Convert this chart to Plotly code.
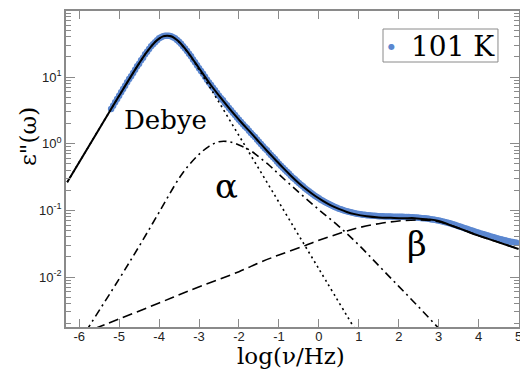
import numpy as np
import plotly.graph_objects as go

# ---- data (log10 of eps'') ----
data_x = [-5.2, -5.15, -5.1, -5.05, -5.0, -4.95, -4.9, -4.85, -4.8, -4.75, -4.7, -4.65,
          -4.6, -4.55, -4.5, -4.45, -4.4, -4.35, -4.3, -4.25, -4.2, -4.15, -4.1, -4.05,
          -4.0, -3.95, -3.9, -3.85, -3.8, -3.75, -3.7, -3.65, -3.6, -3.55, -3.5, -3.45,
          -3.4, -3.35, -3.3, -3.25, -3.2, -3.15, -3.1, -3.05, -3.0, -2.95, -2.9, -2.85,
          -2.8, -2.75, -2.7, -2.65, -2.6, -2.55, -2.5, -2.45, -2.4, -2.35, -2.3, -2.25,
          -2.2, -2.15, -2.1, -2.05, -2.0, -1.95, -1.9, -1.85, -1.8, -1.75, -1.7, -1.65,
          -1.6, -1.55, -1.5, -1.45, -1.4, -1.35, -1.3, -1.25, -1.2, -1.15, -1.1, -1.05,
          -1.0, -0.95, -0.9, -0.85, -0.8, -0.75, -0.7, -0.65, -0.6, -0.55, -0.5, -0.45,
          -0.4, -0.35, -0.3, -0.25, -0.2, -0.15, -0.1, -0.05, 0.0, 0.05, 0.1, 0.15,
          0.2, 0.25, 0.3, 0.35, 0.4, 0.45, 0.5, 0.55, 0.6, 0.65, 0.7, 0.75,
          0.8, 0.85, 0.9, 0.95, 1.0, 1.05, 1.1, 1.15, 1.2, 1.25, 1.3, 1.35,
          1.4, 1.45, 1.5, 1.55, 1.6, 1.65, 1.7, 1.75, 1.8, 1.85, 1.9, 1.95,
          2.0, 2.05, 2.1, 2.15, 2.2, 2.25, 2.3, 2.35, 2.4, 2.45, 2.5, 2.55,
          2.6, 2.65, 2.7, 2.75, 2.8, 2.85, 2.9, 2.95, 3.0, 3.05, 3.1, 3.15,
          3.2, 3.25, 3.3, 3.35, 3.4, 3.45, 3.5, 3.55, 3.6, 3.65, 3.7, 3.75,
          3.8, 3.85, 3.9, 3.95, 4.0, 4.05, 4.1, 4.15, 4.2, 4.25, 4.3, 4.35,
          4.4, 4.45, 4.5, 4.55, 4.6, 4.65, 4.7, 4.75, 4.8, 4.85, 4.9, 4.95]
data_logy = [0.52, 0.57, 0.62, 0.67, 0.72, 0.77, 0.82, 0.87, 0.92, 0.97, 1.01, 1.06,
             1.11, 1.16, 1.20, 1.25, 1.29, 1.34, 1.38, 1.42, 1.46, 1.49, 1.52, 1.55,
             1.58, 1.595, 1.61, 1.617, 1.62, 1.619, 1.61, 1.597, 1.58, 1.555, 1.53, 1.497,
             1.46, 1.426, 1.39, 1.348, 1.31, 1.263, 1.22, 1.178, 1.13, 1.089, 1.05, 1.003,
             0.96, 0.919, 0.88, 0.838, 0.80, 0.76, 0.72, 0.682, 0.65, 0.606, 0.575, 0.536,
             0.50, 0.463, 0.43, 0.393, 0.36, 0.326, 0.29, 0.258, 0.23, 0.194, 0.16, 0.129,
             0.10, 0.062, 0.03, -0.006, -0.04, -0.073, -0.10, -0.135, -0.17, -0.201, -0.23, -0.266,
             -0.30, -0.33, -0.36, -0.392, -0.42, -0.448, -0.48, -0.51, -0.535, -0.563, -0.59, -0.616,
             -0.64, -0.67, -0.69, -0.714, -0.735, -0.757, -0.78, -0.80, -0.82, -0.84, -0.855, -0.875,
             -0.89, -0.905, -0.92, -0.935, -0.95, -0.962, -0.975, -0.985, -0.995, -1.005, -1.015, -1.022,
             -1.03, -1.037, -1.045, -1.05, -1.055, -1.06, -1.065, -1.068, -1.072, -1.075, -1.078, -1.08,
             -1.083, -1.085, -1.087, -1.089, -1.09, -1.091, -1.092, -1.093, -1.094, -1.095, -1.095, -1.096,
             -1.096, -1.097, -1.098, -1.099, -1.10, -1.101, -1.103, -1.105, -1.107, -1.109, -1.111, -1.114,
             -1.117, -1.12, -1.124, -1.128, -1.132, -1.137, -1.142, -1.147, -1.153, -1.16, -1.167, -1.174,
             -1.182, -1.19, -1.199, -1.208, -1.217, -1.227, -1.237, -1.247, -1.257, -1.267, -1.277, -1.287,
             -1.297, -1.307, -1.317, -1.327, -1.337, -1.346, -1.355, -1.364, -1.373, -1.382, -1.391, -1.40,
             -1.409, -1.417, -1.425, -1.433, -1.441, -1.449, -1.456, -1.463, -1.47, -1.476, -1.482, -1.488]

total_x = [-6.3, -5.5, -5.0, -4.5, -4.3, -4.1, -4.0, -3.9, -3.8, -3.7, -3.6, -3.5, -3.3,
           -3.1, -2.9, -2.7, -2.5, -2.3, -2.1, -1.9, -1.7, -1.5, -1.3, -1.1, -0.9, -0.7,
           -0.5, -0.3, -0.1, 0.1, 0.3, 0.5, 0.7, 0.9, 1.2, 1.5, 1.8, 2.1, 2.4, 2.7, 3.0,
           3.3, 3.6, 4.0, 4.5, 5.0]
total_logy = [-0.58, 0.221, 0.719, 1.204, 1.38, 1.524, 1.576, 1.6085, 1.62, 1.611, 1.578,
              1.528, 1.388, 1.22, 1.046, 0.876, 0.72, 0.571, 0.4275, 0.291, 0.163, 0.028,
              -0.106, -0.233, -0.36, -0.48, -0.592, -0.691, -0.781, -0.857, -0.925, -0.978,
              -1.024, -1.057, -1.09, -1.107, -1.113, -1.118, -1.117, -1.134, -1.159,
              -1.225, -1.29, -1.38, -1.48, -1.58]

debye_x = [-6.3, -5.5, -5.0, -4.5, -4.3, -4.1, -4.0, -3.9, -3.8, -3.7, -3.6, -3.5, -3.3,
           -3.1, -2.6, -2.1, -1.6, -1.0, 0.0, 0.9]
debye_logy = [-0.579, 0.221, 0.719, 1.204, 1.38, 1.524, 1.5755, 1.6085, 1.62, 1.6085,
              1.5755, 1.524, 1.38, 1.204, 0.719, 0.221, -0.279, -0.879, -1.879, -2.779]

alpha_x = [-6.3, -5.76, -5.0, -4.5, -4.0, -3.5, -3.25, -3.0, -2.75, -2.5, -2.25, -2.0,
           -1.72, -1.5, -1.25, -1.0, -0.5, 0.0, 0.5, 1.0, 1.5, 2.0, 2.5, 3.0, 3.5]
alpha_logy = [-3.28, -2.75, -2.03, -1.54, -1.03, -0.52, -0.32, -0.16, -0.04, 0.03, 0.03,
              -0.02, -0.10, -0.20, -0.32, -0.46, -0.73, -0.99, -1.24, -1.52, -1.83, -2.14,
              -2.45, -2.77, -3.09]

beta_x = [-6.3, -5.51, -5.0, -4.0, -3.22, -2.0, -1.47, -1.0, -0.35, 0.0, 0.6, 1.0, 1.5,
          2.0, 2.5, 3.0, 3.6, 4.0, 4.5, 5.0]
beta_logy = [-2.94, -2.75, -2.63, -2.39, -2.20, -1.92, -1.78, -1.67, -1.53, -1.45, -1.33,
             -1.26, -1.20, -1.16, -1.145, -1.17, -1.29, -1.38, -1.48, -1.58]

x_ticks = [-6, -5, -4, -3, -2, -1, 0, 1, 2, 3, 4, 5]
y_tick_exp = [-2, -1, 0, 1]
series_name = "101 K"

AX = '#8a8a8a'
BLUE = '#5b87d0'
SERIF = 'DejaVu Serif'
SANS = 'Liberation Sans Narrow, Liberation Sans, Arial, sans-serif'

def lin(v):
    return 10 ** np.array(v)

fig = go.Figure()
fig.add_trace(go.Scatter(x=data_x, y=lin(data_logy), mode='markers', name=series_name,
                         showlegend=False,
                         marker=dict(color=BLUE, size=6.5, line=dict(width=0))))
fig.add_trace(go.Scatter(x=debye_x, y=lin(debye_logy), mode='lines', showlegend=False,
                         line=dict(color='black', width=1.6, dash='2px,3.5px', shape='spline')))
fig.add_trace(go.Scatter(x=alpha_x, y=lin(alpha_logy), mode='lines', showlegend=False,
                         line=dict(color='black', width=1.6, dash='8px,4px,2px,4px', shape='spline')))
fig.add_trace(go.Scatter(x=beta_x, y=lin(beta_logy), mode='lines', showlegend=False,
                         line=dict(color='black', width=1.6, dash='10px,5px', shape='spline')))
fig.add_trace(go.Scatter(x=total_x, y=lin(total_logy), mode='lines', showlegend=False,
                         line=dict(color='black', width=2, shape='spline')))

minor_vals = [m * 10.0 ** e for e in range(-3, 2) for m in range(2, 10)]

fig.update_layout(
    width=520, height=372,
    margin=dict(l=66, r=1, t=11, b=45),
    paper_bgcolor='white', plot_bgcolor='white',
    showlegend=False,
    xaxis=dict(range=[-6.33, 5.01], tickvals=x_ticks, ticktext=[str(t) for t in x_ticks],
               ticks='inside', ticklen=8, tickwidth=1.2, tickcolor=AX,
               showline=True, linecolor=AX, linewidth=1.5, mirror='ticks',
               showgrid=False, zeroline=False, automargin=False, ticklabelstandoff=-3,
               ticklabeloverflow='allow',
               tickfont=dict(family=SANS, size=13, color='#222')),
    yaxis=dict(type='log', range=[-2.75, 1.99],
               tickvals=[10.0 ** e for e in y_tick_exp],
               ticktext=['10<sup>%d</sup>' % e for e in y_tick_exp],
               ticks='inside', ticklen=9, tickwidth=1.2, tickcolor=AX,
               showline=True, linecolor=AX, linewidth=1.5, mirror='ticks',
               showgrid=False, zeroline=False, automargin=False,
               tickfont=dict(family=SANS, size=13, color='#222'),
               minor=dict(tickmode='array', tickvals=minor_vals, ticks='inside',
                          ticklen=5, tickwidth=1, tickcolor=AX, showgrid=False)),
)

# legend box (drawn as layout decoration)
fig.add_shape(type='rect', xref='paper', yref='paper', x0=0.6998, x1=0.9536,
              y0=0.8386, y1=0.943, line=dict(color=AX, width=1), fillcolor='white', layer='above')
fig.add_annotation(text='●', xref='paper', yref='paper', x=0.7196, y=0.889,
                   xanchor='center', yanchor='middle', showarrow=False,
                   font=dict(family='DejaVu Sans', size=8, color=BLUE))
fig.add_annotation(text=series_name, xref='paper', yref='paper', x=0.855, y=0.889,
                   xanchor='center', yanchor='middle', showarrow=False,
                   font=dict(family=SERIF, size=28, color='black'))

fig.add_annotation(text='log(ν/Hz)', xref='paper', yref='paper', x=0.497, y=-0.093,
                   xanchor='center', yanchor='middle', showarrow=False,
                   font=dict(family=SERIF, size=23, color='black'))
fig.add_annotation(text='ε"(ω)', xref='paper', yref='paper', x=-0.084, y=0.604,
                   textangle=-90, xanchor='center', yanchor='middle', showarrow=False,
                   font=dict(family=SERIF, size=23, color='black'))
fig.add_annotation(text='Debye', x=-3.83, y=0.36, xref='x', yref='y',
                   showarrow=False, font=dict(family=SERIF, size=26, color='black'))
fig.add_annotation(text='α', x=-2.3, y=-0.64, xref='x', yref='y',
                   showarrow=False, font=dict(family=SERIF, size=34, color='black'))
fig.add_annotation(text='β', x=2.45, y=-1.505, xref='x', yref='y',
                   showarrow=False, font=dict(family=SERIF, size=34, color='black'))

fig.write_html("out.html", config={'displayModeBar': False},
               post_script="document.body.style.margin='0px';")
